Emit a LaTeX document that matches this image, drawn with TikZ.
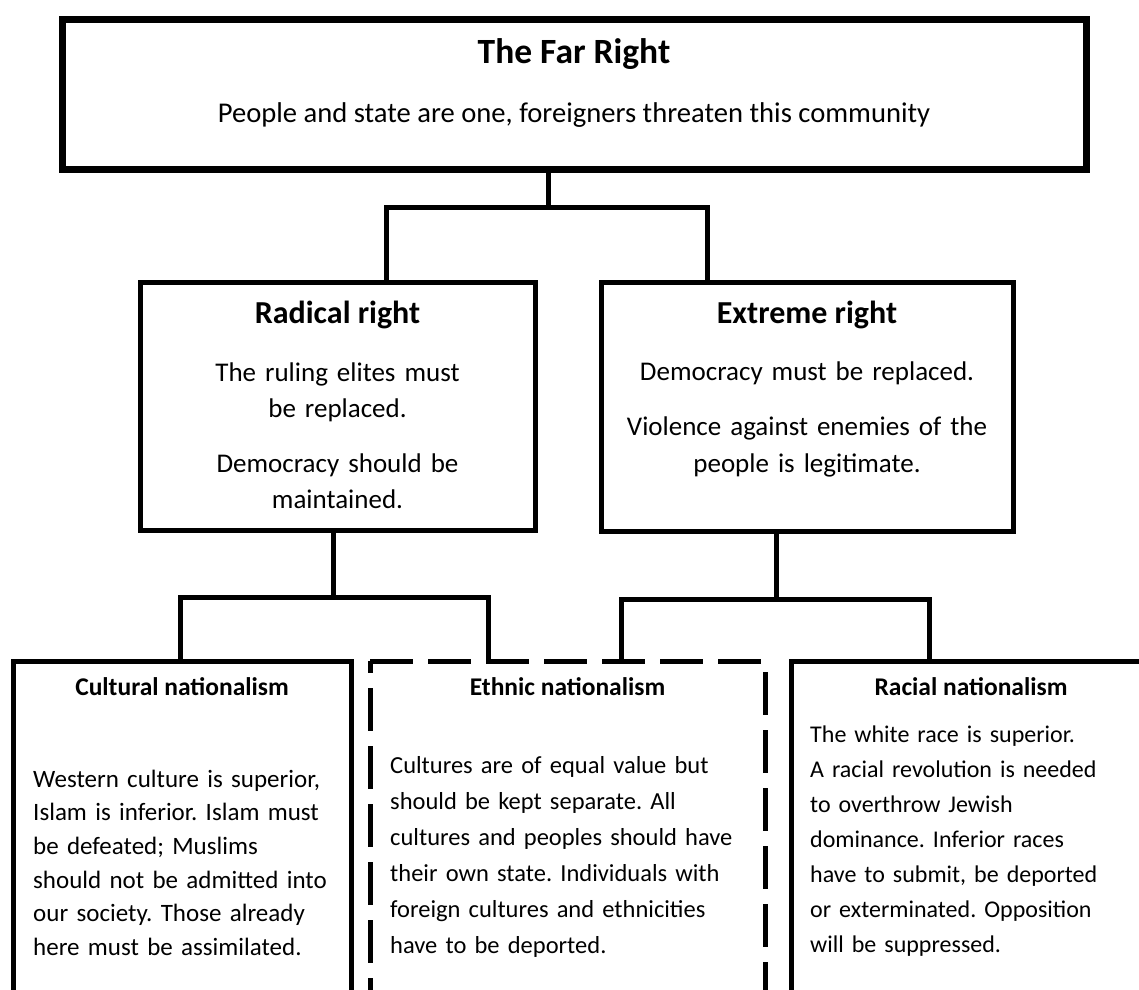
\documentclass[tikz,border=0pt]{standalone}
\usepackage{fontspec}
\setmainfont{Carlito}
\frenchspacing
\begin{document}
\begin{tikzpicture}[x=1pt,y=-1pt,
  box/.style={draw, line width=5pt, inner sep=0pt, outer sep=0pt, anchor=north west},
  dashbox/.style={inner sep=0pt, outer sep=0pt, anchor=north west},
  dashline/.style={line width=5pt, dash pattern=on 43pt off 15pt},
  link/.style={line width=5pt, line join=miter},
  toptitle/.style={anchor=base, inner sep=0pt, font=\fontsize{35.5}{42}\selectfont\bfseries},
  topsub/.style={anchor=base, inner sep=0pt, font=\fontsize{28.6}{34}\selectfont},
  midtitle/.style={anchor=base, inner sep=0pt, font=\fontsize{32}{38}\selectfont\bfseries},
  midbody/.style={anchor=base, inner sep=0pt, align=center, text width=420pt},
  lowtitle/.style={anchor=base, inner sep=0pt, font=\fontsize{25.5}{30}\selectfont\bfseries},
  lowbody/.style={anchor=base west, inner sep=0pt, align=left, text width=420pt}
]
\useasboundingbox (0,0) rectangle (1139,989);
\clip (0,0) rectangle (1139,989);

% boxes
\node[box, line width=7pt, minimum width=1024pt, minimum height=150pt] (top) at (62,19) {};
\node[box, minimum width=395pt, minimum height=248pt] (rad) at (140,282) {};
\node[box, minimum width=412pt, minimum height=249pt] (ext) at (601,282) {};
\node[box, minimum width=338pt, minimum height=360pt] (cul) at (13,661) {};
\node[dashbox, minimum width=395pt, minimum height=360pt] (eth) at (370,661) {};
\node[box, minimum width=360pt, minimum height=360pt] (rac) at (791,661) {};

% dashed outline of the ethnic box
\draw[dashline] (eth.north west) -- (eth.north east) -- (eth.south east);
\draw[dashline, dash phase=31pt] (eth.north west) -- (eth.south west);

% connectors
\coordinate (j0) at (548,207);
\coordinate (a1) at (386,207);
\coordinate (a2) at (707,207);
\draw[link] (j0 |- top.south) -- (j0);
\draw[link] (a1 |- rad.north) -- (a1) -- (a2) -- (a2 |- ext.north);

\coordinate (j1) at (333,597);
\coordinate (b1) at (180,597);
\coordinate (b2) at (488,597);
\draw[link] (j1 |- rad.south) -- (j1);
\draw[link] (b1 |- cul.north) -- (b1) -- (b2) -- (b2 |- eth.north);

\coordinate (j2) at (776,599);
\coordinate (c1) at (621,599);
\coordinate (c2) at (929,599);
\draw[link] (j2 |- ext.south) -- (j2);
\draw[link] (c1 |- eth.north) -- (c1) -- (c2) -- (c2 |- rac.north);

% texts
\node[toptitle] (ttop) at (574,63) {The Far Right};
\node[topsub] (stop) at (574,122) {People and state are one, foreigners threaten this community};

\node[midtitle] (trad) at (337.5,323) {Radical right};
\node[midbody, font=\fontsize{27}{36}\selectfont] (brad) at (337.5,381)
  {The ruling elites must\\ be replaced.\\[19pt] Democracy should be\\ maintained.};

\node[midtitle] (text) at (807,323) {Extreme right};
\node[midbody, font=\fontsize{27}{37}\selectfont] (bext) at (807,380)
  {Democracy must be replaced.\\[18pt] Violence against enemies of the\\ people is legitimate.};

\node[lowtitle] (tcul) at (182,695) {Cultural nationalism};
\node[lowbody, font=\fontsize{25}{33.7}\selectfont] (bcul) at (33,787)
  {Western culture is superior,\\ Islam is inferior. Islam must\\ be defeated; Muslims\\ should not be admitted into\\ our society. Those already\\ here must be assimilated.};

\node[lowtitle] (teth) at (567.5,695) {Ethnic nationalism};
\node[lowbody, font=\fontsize{24.5}{36}\selectfont] (beth) at (390,773)
  {Cultures are of equal value but\\ should be kept separate. All\\ cultures and peoples should have\\ their own state. Individuals with\\ foreign cultures and ethnicities\\ have to be deported.};

\node[lowtitle] (trac) at (971,695) {Racial nationalism};
\node[lowbody, font=\fontsize{24}{35}\selectfont] (brac) at (810,742)
  {The white race is superior.\\ A racial revolution is needed\\ to overthrow Jewish\\ dominance. Inferior races\\ have to submit, be deported\\ or exterminated. Opposition\\ will be suppressed.};
\end{tikzpicture}
\end{document}
